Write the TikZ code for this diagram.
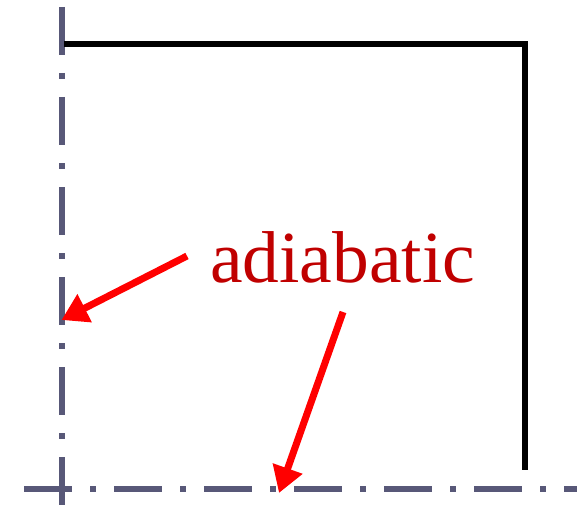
\documentclass[tikz,border=0pt]{standalone}
\usepackage{fontspec}
\setmainfont{Liberation Serif}
\usetikzlibrary{arrows.meta}
\definecolor{axisgray}{RGB}{88,88,120}
\definecolor{labelred}{RGB}{192,0,0}
\begin{document}
\begin{tikzpicture}[x=1pt,y=-1pt,
  axisline/.style={draw=axisgray,line width=6pt,line cap=butt,dash pattern=on 48pt off 18pt on 6pt off 18pt},
  wall/.style={draw=black,line width=6pt,line join=miter},
  pointer/.style={draw=red,line width=7pt,-{Triangle[length=26pt,width=30pt]},shorten >=0pt}]
\useasboundingbox (0,0) rectangle (577,505);
% symmetry / adiabatic boundaries
\draw[axisline] (61.5,7) -- (61.5,505);
\draw[axisline] (24,489) -- (577,489);
% solid walls
\draw[wall] (64,44) -- (525,44) -- (525,470);
% label
\node[anchor=base,inner sep=0pt,text=labelred,font=\fontsize{73.4pt}{80pt}\selectfont] (lbl) at (342.5,282) {adiabatic};
\coordinate (s1) at (187,256);
\coordinate (t1) at (61.5,320);
\coordinate (s2) at (343,312);
\coordinate (t2) at (279,493);
\draw[pointer] (s1) -- (t1);
\draw[pointer] (s2) -- (t2);
\end{tikzpicture}
\end{document}
